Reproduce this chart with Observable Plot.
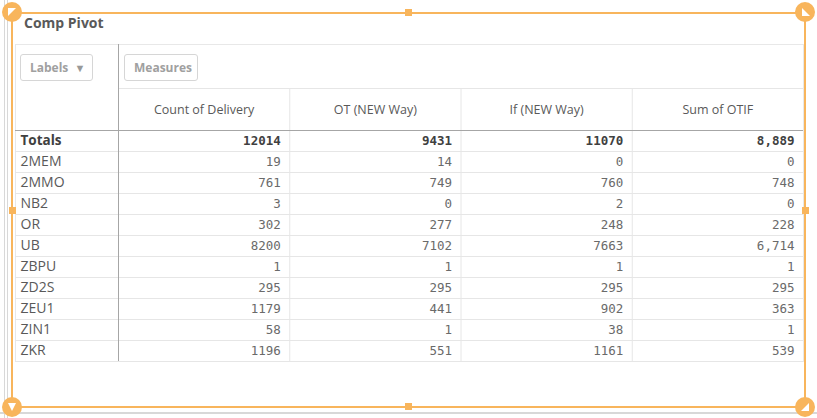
<!DOCTYPE html>
<html><head><meta charset="utf-8">
<script src="https://cdn.jsdelivr.net/npm/d3@7"></script>
<script src="https://cdn.jsdelivr.net/npm/@observablehq/plot@0.6"></script>
<style>
body{margin:0;background:#fff;}
#wrap{position:relative;width:817px;height:418px;overflow:hidden;font-family:"Open Sans",sans-serif;background:#fff;}
#chart{position:absolute;left:0;top:0;}
.title{position:absolute;left:24px;top:13px;font-weight:bold;font-size:14px;line-height:20px;color:#595959;}
.btn{position:absolute;top:54px;height:27px;border:1px solid #d6d6d6;border-radius:3px;font-size:12px;font-weight:bold;color:#a0a0a0;line-height:25px;box-sizing:border-box;padding-left:9px;background:#fff;}
.ln{position:absolute;background:#f8b55c;}
.g{position:absolute;background:#d8d8d8;}
.c{position:absolute;width:20px;height:20px;border-radius:50%;background:#f8b55c;}
.c i{position:absolute;left:6px;top:6px;width:8px;height:8px;background:#fff;}
.sq{position:absolute;width:7px;height:7px;background:#f8b55c;}
</style></head>
<body>
<div id="wrap">
  <div id="chart"></div>
  <div class="g" style="left:4px;top:0;width:1px;height:418px"></div>
  <div class="g" style="left:7px;top:0;width:1px;height:418px"></div>
  <div class="g" style="left:0;top:412px;width:817px;height:2px"></div>
  <div class="title">Comp Pivot</div>
  <div class="btn" style="left:20px;width:73px">Labels <span style="font-size:11px;margin-left:3px;color:#999">▼</span></div>
  <div class="btn" style="left:124px;width:74px">Measures</div>
  <div class="ln" style="left:12px;top:12px;width:793px;height:2px"></div>
  <div class="ln" style="left:12px;top:406px;width:793px;height:2px"></div>
  <div class="ln" style="left:11px;top:12px;width:2px;height:395px"></div>
  <div class="ln" style="left:804px;top:12px;width:2px;height:395px"></div>
  <div class="sq" style="left:405px;top:9px"></div>
  <div class="sq" style="left:405px;top:403px"></div>
  <div class="sq" style="left:9px;top:207px"></div>
  <div class="sq" style="left:802px;top:207px"></div>
  <div class="c" style="left:2px;top:2px"><i style="clip-path:polygon(0 0,100% 0,0 100%)"></i></div>
  <div class="c" style="left:795px;top:2px"><i style="clip-path:polygon(0 0,100% 100%,0 100%);left:7px"></i></div>
  <div class="c" style="left:2px;top:397px"><i style="clip-path:polygon(0 0,100% 0,50% 100%)"></i></div>
  <div class="c" style="left:795px;top:397px"><i style="clip-path:polygon(100% 0,100% 100%,0 100%)"></i></div>
</div>
<script>
const measures = ["Count of Delivery", "OT (NEW Way)", "If (NEW Way)", "Sum of OTIF"];
const labels = ["2MEM", "2MMO", "NB2", "OR", "UB", "ZBPU", "ZD2S", "ZEU1", "ZIN1", "ZKR"];
const countDelivery = [19, 761, 3, 302, 8200, 1, 295, 1179, 58, 1196];
const otNew = [14, 749, 0, 277, 7102, 1, 295, 441, 1, 551];
const ifNew = [0, 760, 2, 248, 7663, 1, 295, 902, 38, 1161];
const sumOtif = [0, 748, 0, 228, 6714, 1, 295, 363, 1, 539];
const totals = [12014, 9431, 11070, 8889];

const series = [countDelivery, otNew, ifNew, sumOtif];
const formats = [d3.format("d"), d3.format("d"), d3.format("d"), d3.format(",")];
const allRows = ["Totals", ...labels];

const cells = [];
measures.forEach((m, j) => {
  cells.push({row: 0, col: j, text: formats[j](totals[j]), bold: true});
  labels.forEach((l, i) => cells.push({row: i + 1, col: j, text: formats[j](series[j][i]), bold: false}));
});
const rowData = allRows.map((r, i) => ({row: i, label: r, bold: i === 0}));
const headers = measures.map((m, j) => ({col: j, label: m}));

const mono = "'DejaVu Sans Mono', monospace";
const sans = "'Open Sans', sans-serif";

const chart = Plot.plot({
  width: 817, height: 418,
  marginTop: 44, marginBottom: 57, marginLeft: 15, marginRight: 14,
  x: {type: "linear", domain: [0, measures.length], range: [118, 803], axis: null},
  y: {type: "linear", domain: [-2, allRows.length], range: [88, 361], axis: null},
  marks: [
    Plot.frame({stroke: "#e8e8e8"}),
    Plot.ruleY(rowData.slice(1), {y: "row", stroke: "#e6e6e6"}),
    Plot.ruleY([allRows.length], {y: d => d, stroke: "#e6e6e6"}),
    Plot.ruleY([-2], {y: d => d, x1: 0, x2: measures.length, stroke: "#e6e6e6"}),
    Plot.ruleX(headers.slice(1), {x: "col", y1: -2, y2: allRows.length, stroke: "#e6e6e6"}),
    Plot.ruleY([0], {y: d => d, stroke: "#a6a6a6"}),
    Plot.ruleX([0], {x: d => d, stroke: "#a6a6a6"}),
    Plot.text(headers, {x: d => d.col + 0.5, y: -1, text: "label", fontFamily: sans, fontSize: 12.5, fill: "#595959"}),
    Plot.text(rowData.filter(d => !d.bold), {frameAnchor: "left", dx: 5, y: d => d.row + 0.5, text: "label", textAnchor: "start",
      fontFamily: sans, fontSize: 14, fill: "#595959"}),
    Plot.text(rowData.filter(d => d.bold), {frameAnchor: "left", dx: 5, y: d => d.row + 0.5, text: "label", textAnchor: "start",
      fontFamily: sans, fontSize: 13.5, fontWeight: "bold", fill: "#404040"}),
    Plot.text(cells.filter(d => !d.bold), {x: d => d.col + 1, y: d => d.row + 0.5, dx: -9, text: "text", textAnchor: "end",
      fontFamily: mono, fontSize: 12.5, fill: "#6a6a6a"}),
    Plot.text(cells.filter(d => d.bold), {x: d => d.col + 1, y: d => d.row + 0.5, dx: -9, text: "text", textAnchor: "end",
      fontFamily: mono, fontSize: 12.5, fontWeight: "bold", fill: "#404040"})
  ]
});
document.getElementById("chart").appendChild(chart);
</script>
</body></html>
